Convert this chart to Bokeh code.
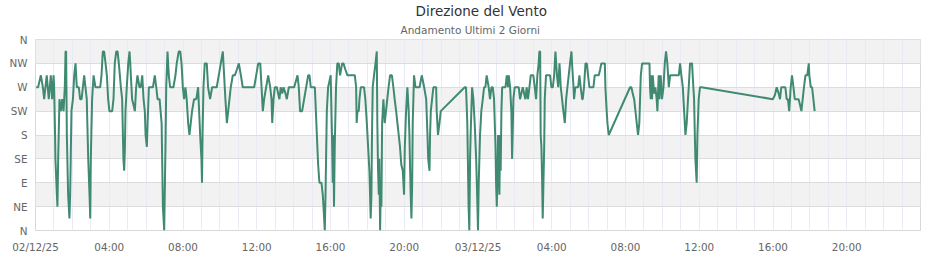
from datetime import datetime, timedelta
from bokeh.plotting import figure
from bokeh.models import BoxAnnotation, FixedTicker, Title, ColumnDataSource
from bokeh.embed import file_html
from bokeh.resources import INLINE

# ---------------- data ----------------
start_day = datetime(2025, 12, 2)

# hours after 02/12/25 00:00
hours = [
    0.04, 0.14, 0.29, 0.40, 0.47, 0.61, 0.72, 0.83, 0.90, 0.98,
    1.01, 1.05, 1.08, 1.16, 1.19, 1.23, 1.30, 1.37, 1.45, 1.52,
    1.59, 1.63, 1.66, 1.70, 1.77, 1.84, 1.88, 1.95, 2.03, 2.10,
    2.17, 2.24, 2.35, 2.42, 2.50, 2.57, 2.64, 2.71, 2.78, 2.86,
    2.93, 2.97, 3.00, 3.07, 3.15, 3.25, 3.33, 3.51, 3.58, 3.65,
    3.72, 3.80, 3.87, 3.94, 4.01, 4.16, 4.23, 4.30, 4.38, 4.45,
    4.52, 4.63, 4.70, 4.74, 4.77, 4.81, 4.85, 4.88, 4.95, 5.03,
    5.10, 5.14, 5.17, 5.24, 5.32, 5.39, 5.46, 5.53, 5.64, 5.71,
    5.79, 5.86, 5.93, 5.97, 6.04, 6.08, 6.15, 6.26, 6.37, 6.47,
    6.55, 6.62, 6.73, 6.84, 6.87, 6.91, 6.98, 7.01, 7.05, 7.09,
    7.16, 7.23, 7.30, 7.48, 7.59, 7.66, 7.77, 7.85, 7.92, 7.99,
    8.06, 8.13, 8.20, 8.28, 8.35, 8.42, 8.49, 8.60, 8.72, 8.82,
    8.93, 9.00, 9.03, 9.06, 9.11, 9.18, 9.29, 9.36, 9.47, 9.58,
    9.69, 9.83, 9.94, 10.05, 10.16, 10.23, 10.30, 10.38, 10.45, 10.52,
    10.59, 10.70, 10.81, 10.92, 11.03, 11.14, 11.24, 11.32, 11.64, 11.86,
    11.97, 12.08, 12.19, 12.26, 12.33, 12.40, 12.51, 12.62, 12.73, 12.80,
    12.84, 12.91, 12.98, 13.09, 13.16, 13.23, 13.30, 13.38, 13.45, 13.56,
    13.63, 13.74, 13.88, 14.03, 14.21, 14.28, 14.35, 14.46, 14.57, 14.68,
    14.79, 14.86, 14.93, 15.04, 15.15, 15.18, 15.26, 15.33, 15.40, 15.51,
    15.58, 15.62, 15.69, 15.73, 15.76, 15.80, 15.87, 15.94, 16.01, 16.08,
    16.12, 16.15, 16.19, 16.23, 16.30, 16.37, 16.45, 16.52, 16.63, 16.70,
    16.81, 16.92, 17.03, 17.32, 17.39, 17.42, 17.46, 17.53, 17.57, 17.64,
    17.71, 17.82, 17.89, 17.97, 18.04, 18.11, 18.18, 18.22, 18.25, 18.29,
    18.36, 18.44, 18.51, 18.54, 18.58, 18.62, 18.65, 18.69, 18.73, 18.76,
    18.80, 18.87, 18.94, 19.01, 19.08, 19.15, 19.23, 19.33, 19.41, 19.48,
    19.56, 19.63, 19.70, 19.77, 19.84, 19.92, 19.99, 20.03, 20.10, 20.17,
    20.24, 20.28, 20.32, 20.35, 20.39, 20.43, 20.46, 20.53, 20.61, 20.72,
    20.83, 20.95, 21.08, 21.19, 21.26, 21.30, 21.37, 21.40, 21.44, 21.51,
    21.58, 21.66, 21.73, 21.76, 21.83, 21.91, 21.98, 23.28, 23.35, 23.42,
    23.45, 23.49, 23.53, 23.57, 23.60, 23.68, 23.75, 23.82, 23.90, 23.97,
    24.00, 24.04, 24.11, 24.18, 24.26, 24.33, 24.40, 24.47, 24.58, 24.65,
    24.73, 24.80, 24.87, 24.95, 24.98, 25.02, 25.06, 25.09, 25.16, 25.20,
    25.23, 25.27, 25.31, 25.38, 25.49, 25.56, 25.63, 25.67, 25.74, 25.81,
    25.85, 25.88, 25.92, 25.99, 26.10, 26.21, 26.28, 26.35, 26.43, 26.50,
    26.57, 26.64, 26.71, 26.79, 26.86, 27.00, 27.08, 27.15, 27.22, 27.29,
    27.33, 27.37, 27.40, 27.44, 27.48, 27.51, 27.55, 27.59, 27.62, 27.69,
    27.80, 27.91, 27.98, 28.06, 28.13, 28.20, 28.24, 28.28, 28.35, 28.42,
    28.49, 28.56, 28.63, 28.71, 28.78, 28.85, 28.92, 28.99, 29.07, 29.10,
    29.18, 29.21, 29.28, 29.36, 29.43, 29.50, 29.57, 29.65, 29.68, 29.75,
    29.83, 29.90, 29.97, 30.04, 30.19, 30.26, 30.33, 30.44, 30.55, 30.62,
    30.69, 30.80, 30.88, 30.91, 30.98, 31.02, 31.09, 32.25, 32.32, 32.39,
    32.47, 32.54, 32.61, 32.68, 32.75, 32.83, 32.90, 33.01, 33.19, 33.30,
    33.33, 33.37, 33.41, 33.44, 33.48, 33.55, 33.62, 33.69, 33.73, 33.80,
    33.84, 33.91, 33.98, 34.06, 34.13, 34.20, 34.27, 34.35, 34.42, 34.53,
    34.71, 34.82, 34.89, 34.96, 35.03, 35.11, 35.18, 35.25, 35.32, 35.39,
    35.43, 35.50, 35.58, 35.61, 35.68, 35.72, 35.76, 35.79, 35.86, 35.90,
    35.97, 36.04, 36.12, 39.99, 40.10, 40.20, 40.31, 40.38, 40.45, 40.56,
    40.67, 40.74, 40.81, 40.88, 40.96, 41.03, 41.11, 41.18, 41.29, 41.39,
    41.47, 41.54, 41.61, 41.68, 41.76, 41.86, 41.94, 41.97, 42.05, 42.12,
    42.19, 42.26,
]

# wind direction, degrees
directions = [
    270, 270, 292.5, 270, 247.5, 292.5, 247.5, 292.5, 247.5, 292.5,
    270, 202.5, 135, 67.5, 45, 135, 247.5, 225, 247.5, 225,
    270, 337.5, 337.5, 180, 67.5, 22.5, 67.5, 225, 247.5, 292.5,
    315, 270, 270, 247.5, 247.5, 270, 292.5, 270, 247.5, 135,
    67.5, 22.5, 135, 247.5, 292.5, 270, 270, 270, 292.5, 337.5,
    337.5, 315, 292.5, 247.5, 225, 225, 247.5, 315, 337.5, 337.5,
    315, 270, 247.5, 180, 135, 112.5, 157.5, 225, 270, 315,
    337.5, 315, 292.5, 247.5, 236, 225, 270, 292.5, 270, 270,
    292.5, 247.5, 225, 180, 157.5, 202.5, 270, 270, 270, 292.5,
    270, 247.5, 247.5, 202.5, 135, 45, 0, 67.5, 157.5, 270,
    337.5, 292.5, 270, 270, 292.5, 315, 337.5, 337.5, 315, 270,
    247.5, 270, 247.5, 202.5, 180, 202.5, 225, 247.5, 247.5, 270,
    180, 135, 90, 180, 270, 315, 315, 270, 247.5, 270,
    270, 270, 292.5, 315, 337.5, 292.5, 247.5, 202.5, 225, 247.5,
    270, 292.5, 292.5, 303, 315, 292.5, 270, 270, 270, 270,
    292.5, 315, 315, 270, 225, 247.5, 270, 292.5, 270, 247.5,
    202.5, 247.5, 270, 270, 258, 247.5, 270, 258, 270, 258,
    247.5, 270, 270, 270, 292.5, 270, 225, 225, 247.5, 270,
    292.5, 292.5, 270, 270, 270, 247.5, 180, 124, 90, 90,
    67.5, 45, 0, 67.5, 135, 225, 270, 281, 292.5, 180,
    90, 180, 45, 157.5, 270, 315, 315, 292.5, 315, 315,
    303, 292.5, 292.5, 292.5, 270, 202.5, 225, 225, 247.5, 270,
    270, 270, 247.5, 202.5, 157.5, 112.5, 22.5, 67.5, 180, 270,
    292.5, 315, 337.5, 202.5, 112.5, 67.5, 135, 0, 90, 45,
    202.5, 247.5, 202.5, 225, 247.5, 270, 292.5, 292.5, 270, 247.5,
    225, 202.5, 180, 157.5, 124, 112.5, 67.5, 157.5, 225, 270,
    225, 180, 112.5, 67.5, 22.5, 90, 202.5, 292.5, 270, 270,
    270, 292.5, 270, 247.5, 180, 135, 112.5, 180, 225, 247.5,
    270, 270, 270, 225, 180, 202.5, 225, 270, 270, 202.5,
    135, 45, 0, 135, 180, 270, 247.5, 202.5, 135, 45,
    0, 90, 180, 225, 247.5, 270, 270, 292.5, 270, 247.5,
    270, 270, 247.5, 157.5, 90, 45, 112.5, 180, 67.5, 180,
    112.5, 225, 270, 270, 270, 292.5, 270, 292.5, 270, 225,
    135, 180, 247.5, 270, 270, 270, 247.5, 258, 270, 258,
    247.5, 270, 247.5, 270, 292.5, 292.5, 270, 247.5, 292.5, 315,
    337.5, 337.5, 180, 157.5, 90, 22.5, 90, 157.5, 247.5, 292.5,
    292.5, 292.5, 270, 270, 292.5, 337.5, 315, 292.5, 270, 315,
    270, 247.5, 225, 202.5, 247.5, 270, 292.5, 315, 337.5, 315,
    270, 247.5, 270, 270, 270, 292.5, 270, 247.5, 247.5, 270,
    315, 315, 292.5, 270, 270, 270, 292.5, 292.5, 292.5, 303,
    315, 315, 315, 270, 225, 202.5, 180, 270, 270, 258,
    247.5, 225, 202.5, 180, 202.5, 292.5, 315, 315, 315, 315,
    270, 247.5, 292.5, 247.5, 292.5, 258, 270, 247.5, 225, 292.5,
    247.5, 292.5, 247.5, 270, 315, 337.5, 315, 270, 292.5, 292.5,
    292.5, 292.5, 292.5, 315, 292.5, 270, 225, 180, 202.5, 247.5,
    270, 315, 315, 315, 270, 247.5, 180, 135, 90, 180,
    247.5, 270, 270, 247.5, 255, 270, 258, 247.5, 270, 270,
    270, 247.5, 247.5, 225, 270, 292.5, 270, 247.5, 247.5, 247.5,
    236, 225, 247.5, 270, 292.5, 292.5, 315, 292.5, 270, 270,
    247.5, 225,
]

compass_degrees = [0, 45, 90, 135, 180, 225, 270, 315, 360]
compass_labels = ["N", "NE", "E", "SE", "S", "SW", "W", "NW", "N"]
shaded_bands = [(45, 90), (135, 180), (225, 270), (315, 360)]

tick_hours = [0, 4, 8, 12, 16, 20, 24, 28, 32, 36, 40, 44]
tick_labels = ["02/12/25", "04:00", "08:00", "12:00", "16:00", "20:00",
               "03/12/25", "04:00", "08:00", "12:00", "16:00", "20:00"]
range_hours = 48

title_text = "Direzione del Vento"
subtitle_text = "Andamento Ultimi 2 Giorni"

# ---------------- chart ----------------
epoch = datetime(1970, 1, 1)


def to_ms(h):
    return ((start_day + timedelta(hours=h)) - epoch).total_seconds() * 1000.0


times = [start_day + timedelta(hours=h) for h in hours]
src = ColumnDataSource(dict(t=times, v=directions))

FONT = "DejaVu Sans"
W, H = 940, 260
LEFT, RIGHT, TOP, BOTTOM = 35, 20, 38, 30

p = figure(width=W, height=H, x_axis_type="datetime",
           x_range=(start_day, start_day + timedelta(hours=range_hours)),
           y_range=(0, 360),
           output_backend="svg", toolbar_location=None,
           min_border_left=LEFT, min_border_right=RIGHT,
           min_border_top=TOP, min_border_bottom=BOTTOM)
p.background_fill_color = "white"
p.border_fill_color = "white"
p.outline_line_color = "#d8d8d8"
p.outline_line_width = 1

for lo, hi in shaded_bands:
    p.add_layout(BoxAnnotation(bottom=lo, top=hi, fill_color="#f2f2f2",
                               fill_alpha=1.0, line_color=None, level="image"))

# x axis
major_ms = [to_ms(h) for h in tick_hours]
minor_ms = [to_ms(h) for h in range(0, range_hours + 1)]
p.xaxis.ticker = FixedTicker(ticks=major_ms, minor_ticks=minor_ms)
p.xaxis.major_label_overrides = {m: lab for m, lab in zip(major_ms, tick_labels)}
p.xaxis.axis_line_color = None
p.xaxis.major_tick_line_color = None
p.xaxis.minor_tick_line_color = None
p.xaxis.major_tick_out = 0
p.xaxis.major_label_standoff = 6
p.xaxis.major_label_text_font = FONT
p.xaxis.major_label_text_font_size = "10.4px"
p.xaxis.major_label_text_color = "#666666"

p.xgrid.grid_line_color = "#e9e9f7"
p.xgrid.minor_grid_line_color = "#e9e9f7"

# y axis
p.yaxis.ticker = FixedTicker(ticks=compass_degrees)
p.yaxis.major_label_overrides = {d: lab for d, lab in zip(compass_degrees, compass_labels)}
p.yaxis.axis_line_color = None
p.yaxis.major_tick_line_color = None
p.yaxis.minor_tick_line_color = None
p.yaxis.major_tick_out = 0
p.yaxis.major_label_standoff = 8
p.yaxis.major_label_text_font = FONT
p.yaxis.major_label_text_font_size = "10.4px"
p.yaxis.major_label_text_color = "#666666"

p.ygrid.grid_line_color = "#dddddd"

p.line(x="t", y="v", source=src, line_color="#3f8a70", line_width=2)

# titles: left-aligned in the panel, shifted so they are centred on the chart
p.add_layout(Title(text=subtitle_text, align="left", offset=W / 2 - LEFT - 70,
                   text_font=FONT, text_font_size="10.5px",
                   text_font_style="normal", text_color="#666666",
                   text_line_height=0.9, standoff=7), "above")
p.add_layout(Title(text=title_text, align="left", offset=W / 2 - LEFT - 55,
                   text_font=FONT, text_font_size="13.5px",
                   text_font_style="normal", text_color="#333333",
                   text_line_height=0.8, standoff=0), "above")

open("out.html", "w").write(file_html(p, INLINE))
